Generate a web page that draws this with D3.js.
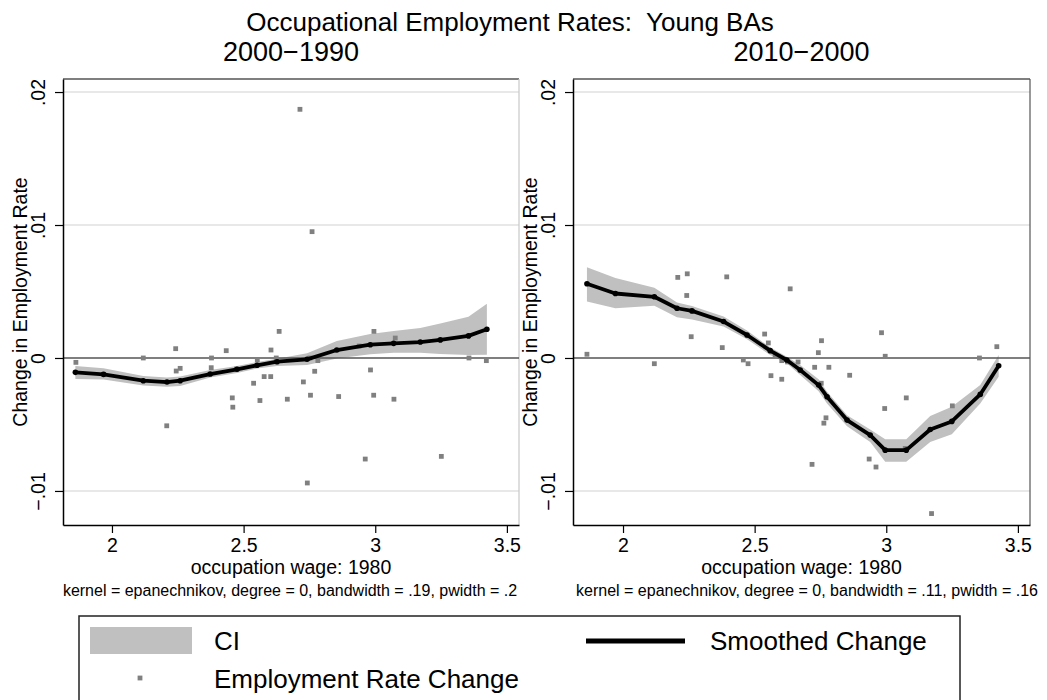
<!DOCTYPE html>
<html>
<head>
<meta charset="utf-8">
<script src="https://cdn.jsdelivr.net/npm/d3@7"></script>
<style>
  body { margin: 0; background: #fff; }
  text { font-family: "Liberation Sans", Arial, sans-serif; fill: #000; }
</style>
</head>
<body>
<div id="chart"></div>
<script>
// ---- data ----
var xTicks = [2, 2.5, 3, 3.5];
var yTicks = [-0.01, 0, 0.01, 0.02];
var panelTitles = ["2000\u22121990", "2010\u22122000"];
var panelNotes = [
  "kernel = epanechnikov, degree = 0, bandwidth = .19, pwidth = .2",
  "kernel = epanechnikov, degree = 0, bandwidth = .11, pwidth = .16"
];

// 2000-1990 : scatter
var leftPtX = [1.863, 1.968, 2.119, 2.242, 2.244, 2.259, 2.208, 2.378, 2.377, 2.434, 2.457, 2.459, 2.473,
  2.538, 2.552, 2.562, 2.578, 2.603, 2.604, 2.624, 2.635, 2.666, 2.714, 2.727, 2.742, 2.752, 2.754, 2.760,
  2.770, 2.782, 2.861, 2.939, 2.962, 2.982, 2.994, 2.995, 3.071, 3.076, 3.251, 3.356, 3.422];
var leftPtY = [-0.00033, -0.00123, 0, 0.0007, -0.00098, -0.00078, -0.0051, 0, -0.00073, 0.00055, -0.003, -0.0037, -0.00083,
  -0.0019, -0.00015, -0.0032, -0.0014, -0.0014, 0.0006, 0, 0.002, -0.0031, 0.0187, -0.0018, -0.0094, 0, -0.0028, 0.0095,
  -0.001, -0.0002, -0.0029, 0.0009, -0.0076, -0.0009, -0.0028, 0.002, -0.0031, 0.0015, -0.0074, 0, -0.0002];
// 2000-1990 : smoothed change and CI
var leftGrid = [1.861, 1.968, 2.119, 2.209, 2.259, 2.373, 2.475, 2.551, 2.627, 2.741, 2.854, 2.981, 3.070, 3.171, 3.247, 3.354, 3.424];
var leftFit = [-0.00108, -0.00123, -0.00171, -0.00181, -0.00171, -0.00121, -0.00085, -0.00055, -0.00028, -0.0001, 0.0006, 0.001, 0.0011, 0.0012, 0.00136, 0.00166, 0.00216];
var leftHi = [-0.0006, -0.00078, -0.00136, -0.00146, -0.0014, -0.0009, -0.0006, -0.0003, -0.00005, 0.00035, 0.00128, 0.00181, 0.00203, 0.00225, 0.0026, 0.00311, 0.00407];
var leftLo = [-0.00158, -0.00161, -0.00206, -0.00216, -0.00211, -0.00146, -0.00112, -0.0008, -0.0006, -0.00053, -0.00003, 0.00028, 0.0004, 0.0004, 0.0003, 0.00023, 0.00025];

// 2010-2000 : scatter
var rightPtX = [1.863, 2.119, 2.208, 2.242, 2.244, 2.259, 2.377, 2.394, 2.457, 2.475, 2.538, 2.552, 2.562, 2.578,
  2.603, 2.603, 2.625, 2.635, 2.665, 2.718, 2.728, 2.742, 2.753, 2.754, 2.763, 2.771, 2.782, 2.861, 2.935, 2.961,
  2.982, 2.994, 2.996, 3.072, 3.076, 3.172, 3.251, 3.354, 3.420];
var rightPtY = [0.00028, -0.00043, 0.00606, 0.0047, 0.00633, 0.0016, 0.00078, 0.0061, -0.00015, -0.00043, 0.0018, 0.00113, -0.00133, 0.00015,
  -0.0016, -0.0002, -0.0003, 0.0052, -0.0003, -0.008, -0.0007, 0.0004, -0.0019, 0.0013, -0.0049, -0.0045, -0.0007, -0.0013, -0.0076, -0.0082,
  0.0019, -0.0038, 0.00013, -0.0068, -0.003, -0.0117, -0.0036, 0, 0.00085];
// 2010-2000 : smoothed change and CI
var rightGrid = [1.863, 1.971, 2.119, 2.205, 2.262, 2.382, 2.471, 2.559, 2.622, 2.673, 2.743, 2.775, 2.851, 2.939, 2.996, 3.076, 3.167, 3.249, 3.357, 3.427];
var rightFit = [0.00558, 0.00485, 0.0046, 0.00374, 0.00354, 0.00274, 0.00173, 0.00055, -0.00015, -0.0009, -0.00204, -0.00291, -0.00467, -0.0058, -0.00693, -0.00693, -0.00538, -0.00477, -0.00274, -0.00058];
var rightHi = [0.00683, 0.00601, 0.00528, 0.00417, 0.0039, 0.00312, 0.00206, 0.0008, 0.0001, -0.00053, -0.0016, -0.00254, -0.0043, -0.00538, -0.00611, -0.00611, -0.00437, -0.00367, -0.00203, 0.00023];
var rightLo = [0.00425, 0.00374, 0.00392, 0.00306, 0.0029, 0.00236, 0.00141, 0.00023, -0.0004, -0.00128, -0.0025, -0.00342, -0.00513, -0.00631, -0.00781, -0.00781, -0.00631, -0.00573, -0.00342, -0.00141];

var width = 1047, height = 700;
var ciColor = "#c0c0c0", ptColor = "#808080";

var svg = d3.select("#chart").append("svg")
  .attr("width", width)
  .attr("height", height);

svg.append("text")
  .attr("x", 510).attr("y", 31)
  .attr("text-anchor", "middle")
  .style("font-size", "26px")
  .text("Occupational Employment Rates:\u00a0 Young BAs");

function fmtY(d) {
  if (d === 0) return "0";
  var s = d3.format(".2~f")(Math.abs(d)).replace(/^0/, "");
  return (d < 0 ? "\u2212" : "") + s;
}

function drawPanel(p) {
  var x = d3.scaleLinear().domain(p.xDomain).range([p.left, p.right]);
  var y = d3.scaleLinear().domain([-0.01256, 0.02098]).range([525, 79]);
  var g = svg.append("g");

  // grid lines
  g.selectAll(".grid")
    .data(yTicks.filter(function(d) { return d !== 0; }))
    .enter().append("line")
    .attr("x1", p.left).attr("x2", p.right)
    .attr("y1", function(d) { return y(d); })
    .attr("y2", function(d) { return y(d); })
    .attr("stroke", "#e0e0e0").attr("stroke-width", 1.5);

  // frame
  g.append("line").attr("x1", p.left).attr("x2", p.right).attr("y1", 79).attr("y2", 79)
    .attr("stroke", "#000").attr("stroke-width", 1.2);
  g.append("line").attr("x1", p.right).attr("x2", p.right).attr("y1", 79).attr("y2", 525)
    .attr("stroke", p.rightEdge).attr("stroke-width", 1.2);

  // CI band
  var band = p.grid.map(function(v, i) { return {x: v, lo: p.lo[i], hi: p.hi[i]}; });
  g.append("path")
    .datum(band)
    .attr("fill", ciColor)
    .attr("d", d3.area()
      .x(function(d) { return x(d.x); })
      .y0(function(d) { return y(d.lo); })
      .y1(function(d) { return y(d.hi); }));

  // zero line
  g.append("line").attr("x1", p.left).attr("x2", p.right)
    .attr("y1", y(0)).attr("y2", y(0))
    .attr("stroke", "#555").attr("stroke-width", 1.5);

  // scatter
  var pts = p.ptX.map(function(v, i) { return {x: v, y: p.ptY[i]}; });
  g.selectAll(".pt")
    .data(pts)
    .enter().append("rect")
    .attr("x", function(d) { return x(d.x) - 2.4; })
    .attr("y", function(d) { return y(d.y) - 2.4; })
    .attr("width", 4.8).attr("height", 4.8)
    .attr("fill", ptColor);

  // smoothed change
  var fit = p.grid.map(function(v, i) { return {x: v, y: p.fit[i]}; });
  g.append("path")
    .datum(fit)
    .attr("fill", "none")
    .attr("stroke", "#000")
    .attr("stroke-width", 3.8)
    .attr("stroke-linejoin", "round")
    .attr("d", d3.line().x(function(d) { return x(d.x); }).y(function(d) { return y(d.y); }));
  g.selectAll(".fitpt")
    .data(fit)
    .enter().append("circle")
    .attr("cx", function(d) { return x(d.x); })
    .attr("cy", function(d) { return y(d.y); })
    .attr("r", 2.8)
    .attr("fill", "#000");

  // axes
  var xa = g.append("g")
    .attr("transform", "translate(0,525)")
    .call(d3.axisBottom(x).tickValues(xTicks).tickSize(8).tickSizeOuter(0).tickFormat(d3.format("~g")));
  xa.select(".domain").attr("stroke", "#000").attr("stroke-width", 1.5);
  xa.selectAll(".tick line").attr("stroke", "#000").attr("stroke-width", 1.2);
  xa.selectAll(".tick text")
    .attr("y", 27).attr("dy", 0)
    .style("font-size", "19.5px")
    .style("font-family", "Liberation Sans, Arial, sans-serif")
    .attr("fill", "#000");

  var ya = g.append("g")
    .attr("transform", "translate(" + p.left + ",0)")
    .call(d3.axisLeft(y).tickValues(yTicks).tickSize(8).tickSizeOuter(0).tickFormat(fmtY));
  ya.select(".domain").attr("stroke", "#000").attr("stroke-width", 1.5);
  ya.selectAll(".tick line").attr("stroke", "#000").attr("stroke-width", 1.2);
  ya.selectAll(".tick text")
    .attr("x", null).attr("dy", null)
    .attr("text-anchor", "middle")
    .attr("transform", "translate(-18,0) rotate(-90)")
    .style("font-size", "19.5px")
    .style("font-family", "Liberation Sans, Arial, sans-serif")
    .attr("fill", "#000");

  // titles
  var cx = (p.left + p.right) / 2;
  svg.append("text")
    .attr("x", cx).attr("y", 61)
    .attr("text-anchor", "middle")
    .style("font-size", "27px")
    .text(p.title);
  svg.append("text")
    .attr("x", cx).attr("y", 574)
    .attr("text-anchor", "middle")
    .style("font-size", "19.5px")
    .text("occupation wage: 1980");
  svg.append("text")
    .attr("x", p.noteX).attr("y", 596)
    .attr("text-anchor", "middle")
    .style("font-size", "16px")
    .text(p.note);
  svg.append("text")
    .attr("transform", "translate(" + (p.left - 36) + ",302) rotate(-90)")
    .attr("text-anchor", "middle")
    .style("font-size", "19.5px")
    .text("Change in Employment Rate");
}

drawPanel({
  left: 63, right: 519, xDomain: [1.814, 3.546], rightEdge: "#c8c8c8",
  ptX: leftPtX, ptY: leftPtY, grid: leftGrid, fit: leftFit, lo: leftLo, hi: leftHi,
  title: panelTitles[0], note: panelNotes[0], noteX: 290
});
drawPanel({
  left: 573, right: 1030, xDomain: [1.810, 3.546], rightEdge: "#555",
  ptX: rightPtX, ptY: rightPtY, grid: rightGrid, fit: rightFit, lo: rightLo, hi: rightHi,
  title: panelTitles[1], note: panelNotes[1], noteX: 807
});

// legend
var leg = svg.append("g");
leg.append("rect")
  .attr("x", 79).attr("y", 616).attr("width", 881).attr("height", 120)
  .attr("fill", "#fff").attr("stroke", "#222").attr("stroke-width", 1.5);
leg.append("rect")
  .attr("x", 90).attr("y", 627).attr("width", 102).attr("height", 27)
  .attr("fill", ciColor);
leg.append("text").attr("x", 214).attr("y", 650).style("font-size", "26px").text("CI");
leg.append("line")
  .attr("x1", 586).attr("x2", 685).attr("y1", 641).attr("y2", 641)
  .attr("stroke", "#000").attr("stroke-width", 5);
leg.append("text").attr("x", 710).attr("y", 650).style("font-size", "26px").text("Smoothed Change");
leg.append("rect")
  .attr("x", 137.6).attr("y", 675.6).attr("width", 4.8).attr("height", 4.8)
  .attr("fill", ptColor);
leg.append("text").attr("x", 214).attr("y", 688).style("font-size", "26px").text("Employment Rate Change");
</script>
</body>
</html>
